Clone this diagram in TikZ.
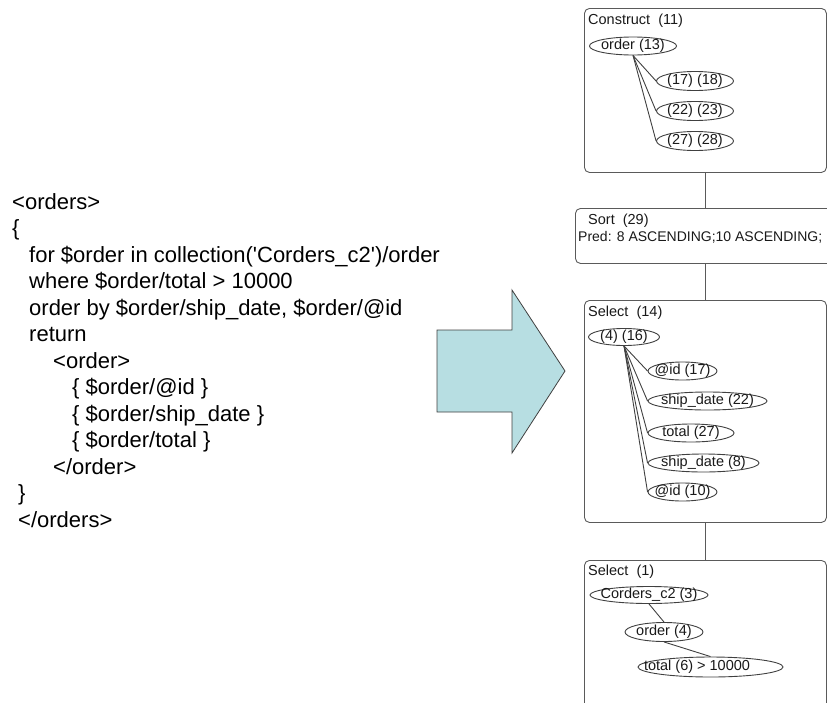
\documentclass[tikz,border=0pt]{standalone}
\usepackage{fontspec}
\setmainfont{Liberation Sans}
\usetikzlibrary{shapes.geometric}
\definecolor{arrowfill}{HTML}{B7DEE2}
\definecolor{edgegray}{HTML}{404040}
\definecolor{boxgray}{HTML}{5A5A5A}
\begin{document}
\begin{tikzpicture}[x=1pt,y=-1pt,
  code/.style={anchor=base west,inner sep=0pt,font=\fontsize{22}{26}\selectfont},
  lbl/.style={inner sep=0pt,text=black!90,font=\fontsize{14.5}{16}\selectfont},
  panel/.style={draw=boxgray,line width=0.9pt,rounded corners=5pt,anchor=north west,inner sep=0pt},
  oval/.style={ellipse,draw=edgegray,line width=0.9pt,inner sep=0pt},
  link/.style={draw=edgegray,line width=0.9pt},
  trunk/.style={draw=boxgray,line width=0.9pt}]
\useasboundingbox (0,0) rectangle (827,702);

% ---- XQuery source ----
\node[code] (q1)  at (12,209)   {<orders>};
\node[code] (q2)  at (12,235.5) {\{};
\node[code] (q3)  at (29,262)   {for \$order in collection(\textquotesingle Corders\_c2\textquotesingle)/order};
\node[code] (q4)  at (29,288.5) {where \$order/total > 10000};
\node[code] (q5)  at (29,315)   {order by \$order/ship\_date, \$order/@id};
\node[code] (q6)  at (29,341.5) {return};
\node[code] (q7)  at (53,368)   {<order>};
\node[code] (q8)  at (72,394.5) {\{ \$order/@id \}};
\node[code] (q9)  at (72,421)   {\{ \$order/ship\_date \}};
\node[code] (q10) at (72,447.5) {\{ \$order/total \}};
\node[code] (q11) at (53,474)   {</order>};
\node[code] (q12) at (18,500.5) {\}};
\node[code] (q13) at (18,527)   {</orders>};

% ---- block arrow ----
\draw[fill=arrowfill,draw=edgegray,line width=0.8pt]
  (437,330) -- (512,330) -- (512,290) -- (565,371) -- (512,453) -- (512,412) -- (437,412) -- cycle;

% ---- operator panels ----
\node[panel,minimum width=242pt,minimum height=164pt] (construct) at (584,8) {};
\node[panel,minimum width=265pt,minimum height=55pt]  (sort)      at (575,208) {};
\node[panel,minimum width=242pt,minimum height=222pt] (sel14)     at (584,300) {};
\node[panel,minimum width=242pt,minimum height=170pt] (sel1)      at (584,560) {};

\draw[trunk] (construct.south) -- (construct.south |- sort.north);
\draw[trunk] (construct.south |- sort.south) -- (sel14.north);
\draw[trunk] (sel14.south) -- (sel1.north);

% Construct (11)
\node[lbl,anchor=west] (constructT) at (588,21) {Construct\ \ (11)};
\node[oval,minimum width=87pt,minimum height=18pt] (o13) at (633,46) {};
\node[lbl] (o13t) at (o13) {order (13)};
\node[oval,minimum width=77pt,minimum height=19pt] (c17) at (695,81) {};
\node[lbl] (c17t) at (c17) {(17) (18)};
\node[oval,minimum width=77pt,minimum height=19pt] (c22) at (695,111) {};
\node[lbl] (c22t) at (c22) {(22) (23)};
\node[oval,minimum width=77pt,minimum height=19pt] (c27) at (695,141) {};
\node[lbl] (c27t) at (c27) {(27) (28)};
\foreach \c in {c17,c22,c27} \draw[link] (o13.south) -- (\c.west);

% Sort (29)
\node[lbl,anchor=west] (sortT) at (588,221) {Sort\ \ (29)};
\node[lbl,anchor=west,font=\fontsize{14}{16}\selectfont] (sortP) at (578,237) {Pred: 8 ASCENDING;10 ASCENDING;};

% Select (14)
\node[lbl,anchor=west] (sel14T) at (588,313) {Select\ \ (14)};
\node[oval,minimum width=71pt,minimum height=17pt] (p416) at (624,337) {};
\node[lbl] (p416t) at (p416) {(4) (16)};
\node[oval,minimum width=69pt,minimum height=18pt]  (id17) at (682.5,371) {};
\node[lbl] (id17t) at (id17) {@id (17)};
\node[oval,minimum width=119pt,minimum height=18pt] (sd22) at (707.5,401) {};
\node[lbl] (sd22t) at (sd22) {ship\_date (22)};
\node[oval,minimum width=86pt,minimum height=18pt]  (to27) at (691,433) {};
\node[lbl] (to27t) at (to27) {total (27)};
\node[oval,minimum width=111pt,minimum height=18pt] (sd8)  at (703.5,463) {};
\node[lbl] (sd8t) at (sd8) {ship\_date (8)};
\node[oval,minimum width=69pt,minimum height=18pt]  (id10) at (682.5,492) {};
\node[lbl] (id10t) at (id10) {@id (10)};
\foreach \c in {id17,sd22,to27,sd8,id10} \draw[link] (p416.south) -- (\c.west);

% Select (1)
\node[lbl,anchor=west] (sel1T) at (588,572) {Select\ \ (1)};
\node[oval,minimum width=118pt,minimum height=17pt] (cor) at (649,595) {};
\node[lbl] (cort) at (cor) {Corders\_c2 (3)};
\node[oval,minimum width=78pt,minimum height=19pt] (ord4) at (664,632) {};
\node[lbl] (ord4t) at (ord4) {order (4)};
\node[oval,minimum width=145pt,minimum height=20pt] (to6) at (710.5,667) {};
\node[lbl] (to6t) at (697,667) {total (6) > 10000};
\draw[link] (cor.south) -- (ord4.north);
\draw[link] (ord4.south) -- (to6.north);
\end{tikzpicture}
\end{document}
